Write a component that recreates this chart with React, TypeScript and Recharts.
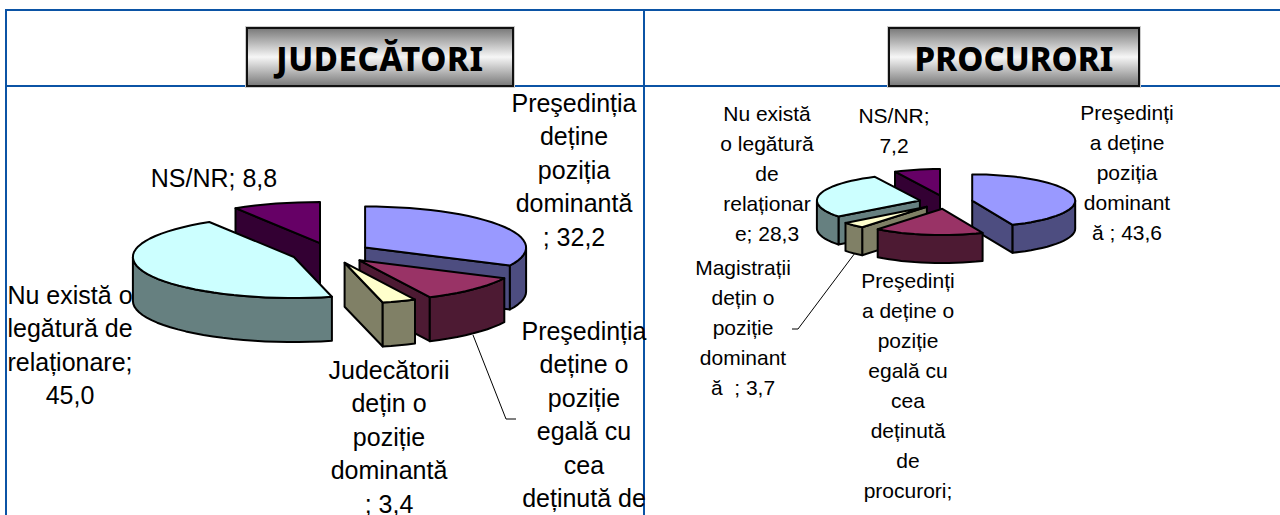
import { PieChart, Pie } from "recharts";

const judCategories = ["Preşedinția deține poziția dominantă", "Preşedinția deține o poziție egală", "Judecătorii dețin o poziție dominantă", "Nu există o legătură de relaționare", "NS/NR"];
const judValues = [32.2, 10.6, 3.4, 45.0, 8.8];
const proCategories = ["Preşedinția deține poziția dominantă", "Preşedinția deține o poziție egală", "Magistrații dețin o poziție dominantă", "Nu există o legătură de relaționare", "NS/NR"];
const proValues = [43.6, 17.2, 3.7, 28.3, 7.2];

const topColors = ["#9999FF", "#993366", "#FFFFCC", "#CCFFFF", "#660066"];
const sideColors = ["#4D4D80", "#4D1A33", "#808066", "#668080", "#330033"];

// paint order, back to front
const judOrder = [4, 0, 3, 1, 2];
const proOrder = [4, 3, 0, 2, 1];

const judLabels = [
  { x: 574, y: 112, lines: ["Preşedinția", "deține", "poziția", "dominantă", "; 32,2"] },
  { x: 214, y: 187, lines: ["NS/NR; 8,8"] },
  { x: 70, y: 304, lines: ["Nu există o", "legătură de", "relaționare;", "45,0"] },
  { x: 389, y: 379, lines: ["Judecătorii", "dețin o", "poziție", "dominantă", "; 3,4"] },
  { x: 584, y: 340, lines: ["Preşedinția", "deține o", "poziție", "egală cu", "cea", "deținută de"] },
];
const proLabels = [
  { x: 1127, y: 120, lines: ["Preşedinți", "a deține", "poziția", "dominant", "ă ; 43,6"] },
  { x: 894, y: 123, lines: ["NS/NR;", "7,2"] },
  { x: 767, y: 121, lines: ["Nu există", "o legătură", "de", "relaționar", "e; 28,3"] },
  { x: 743, y: 275, lines: ["Magistrații", "dețin o", "poziție", "dominant", "ă  ; 3,7"] },
  { x: 908, y: 288, lines: ["Preşedinți", "a deține o", "poziție", "egală cu", "cea", "deținută", "de", "procurori;"] },
];

const TILT = 0.255;
const BLUE = "#0B53A5";

const toRows = (names: string[], values: number[]) =>
  names.map((name, i) => ({ name, value: values[i], fill: topColors[i], side: sideColors[i] }));

function rimPoints(cx: number, cy: number, r: number, from: number, to: number) {
  const pts: [number, number][] = [];
  const n = Math.max(2, Math.ceil(Math.abs(to - from) / 4));
  for (let i = 0; i <= n; i++) {
    const a = ((from + ((to - from) * i) / n) * Math.PI) / 180;
    pts.push([cx + r * Math.sin(a), cy - r * TILT * Math.cos(a)]);
  }
  return pts;
}

const toPath = (pts: [number, number][]) => "M" + pts.map((p) => p[0].toFixed(1) + "," + p[1].toFixed(1)).join("L") + "Z";

function Slice3D({ p, depth, explode }: any) {
  // recharts angles run counter-clockwise from 3 o'clock, here clockwise from 12
  const a = 90 - p.startAngle;
  const b = 90 - p.endAngle;
  const mid = (((a + b) / 2) * Math.PI) / 180;
  const r = p.outerRadius;
  const x = p.cx + explode * r * Math.sin(mid);
  const y = p.cy - explode * r * TILT * Math.cos(mid);
  const side = p.payload?.side ?? p.side;
  const fill = p.payload?.fill ?? p.fill;
  const common = { stroke: "#000", strokeWidth: 2, strokeLinejoin: "round" as const };

  const walls: [number, number][][] = [];
  const radial = (ang: number) => {
    const [e] = rimPoints(x, y, r, ang, ang);
    walls.push([[x, y], e, [e[0], e[1] + depth], [x, y + depth]]);
  };
  if (Math.sin((a * Math.PI) / 180) < -0.001) radial(a);
  if (Math.sin((b * Math.PI) / 180) > 0.001) radial(b);
  const from = Math.max(a, 90);
  const to = Math.min(b, 270);
  if (to > from) {
    const rim = rimPoints(x, y, r, from, to);
    walls.push([...rim, ...rim.slice().reverse().map((q) => [q[0], q[1] + depth] as [number, number])]);
  }
  return (
    <g>
      {walls.map((w, i) => <path key={i} d={toPath(w)} fill={side} {...common} />)}
      <path d={toPath([[x, y], ...rimPoints(x, y, r, a, b)])} fill={fill} {...common} />
    </g>
  );
}

function PieLayers({ rows, order, cx, cy, radius, depth, explode }: any) {
  return order.map((idx: number) => (
    <Pie
      key={idx}
      data={rows}
      dataKey="value"
      nameKey="name"
      cx={cx}
      cy={cy}
      outerRadius={radius}
      startAngle={90}
      endAngle={-270}
      isAnimationActive={false}
      legendType="none"
      shape={(p: any) => ((p.payload?.name ?? p.name) === rows[idx].name ? <Slice3D p={p} depth={depth} explode={explode} /> : <g />)}
    />
  ));
}

function TextBlock({ label, size, lead }: any) {
  return (
    <text x={label.x} y={label.y} textAnchor="middle" fontFamily="Liberation Sans" fontSize={size} fill="#000" xmlSpace="preserve">
      {label.lines.map((l: string, i: number) => (
        <tspan key={i} x={label.x} y={label.y + i * lead}>{l}</tspan>
      ))}
    </text>
  );
}

function TitleBox({ left, width, text, spacing }: any) {
  return (
    <div style={{
      position: "absolute", left, top: 27, width, height: 60, boxSizing: "border-box",
      border: "2px solid #111", outline: "1px solid #ccc",
      background: "linear-gradient(#7c7c7c, #f6f6f6 50%, #7c7c7c)",
      textAlign: "center", fontFamily: "Noto Sans", fontWeight: 800, fontSize: 33, letterSpacing: spacing, lineHeight: "60px", color: "#000",
    }}>{text}</div>
  );
}

export default function App() {
  const line = (style: any) => <div style={{ position: "absolute", background: BLUE, ...style }} />;
  return (
    <div style={{ position: "fixed", left: 0, top: 0, width: 1280, height: 515, overflow: "hidden", background: "#fff" }}>
      {line({ left: 5, top: 9, width: 1275, height: 2 })}
      {line({ left: 5, top: 85, width: 1275, height: 2 })}
      {line({ left: 5, top: 9, width: 2, height: 506 })}
      {line({ left: 643, top: 9, width: 2, height: 506 })}
      <TitleBox left={246} width={268} text="JUDECĂTORI" spacing={0.6} />
      <TitleBox left={888} width={252} text="PROCURORI" spacing={0} />
      <div style={{ position: "absolute", left: 0, top: 0 }}>
        <PieChart width={1280} height={515} margin={{ top: 0, right: 0, bottom: 0, left: 0 }}>
          {PieLayers({ rows: toRows(judCategories, judValues), order: judOrder, cx: 331, cy: 253, radius: 161, depth: 44, explode: 0.25 })}
          {PieLayers({ rows: toRows(proCategories, proValues), order: proOrder, cx: 946, cy: 202, radius: 103, depth: 28, explode: 0.26 })}
        </PieChart>
      </div>
      <svg width={1280} height={515} style={{ position: "absolute", left: 0, top: 0 }}>
        <polyline points="473,335 506,419 516,419" fill="none" stroke="#000" strokeWidth={1} />
        <polyline points="855,253 798,329 792,329" fill="none" stroke="#000" strokeWidth={1} />
        {judLabels.map((l, i) => <TextBlock key={i} label={l} size={25} lead={33.4} />)}
        {proLabels.map((l, i) => <TextBlock key={i} label={l} size={21} lead={30} />)}
      </svg>
    </div>
  );
}
